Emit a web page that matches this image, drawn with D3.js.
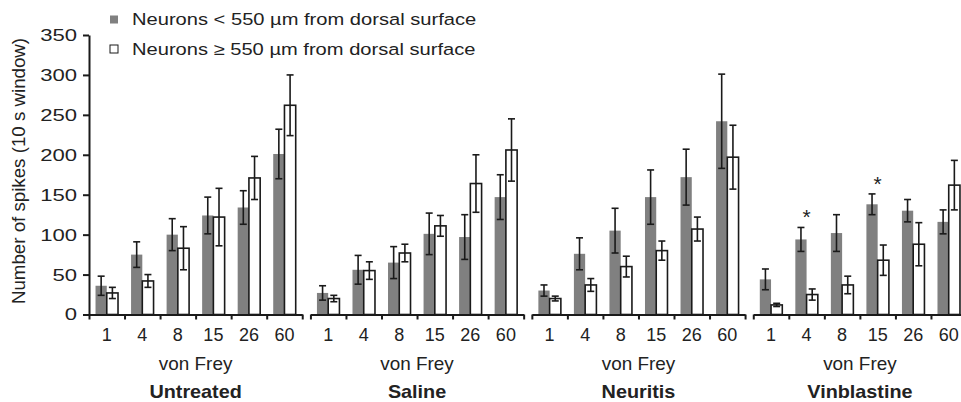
<!DOCTYPE html>
<html>
<head>
<meta charset="utf-8">
<script src="https://cdn.jsdelivr.net/npm/d3@7"></script>
<style>
  body { margin: 0; background: #fff; }
  svg { display: block; font-family: "Liberation Sans", Arial, sans-serif; }
</style>
</head>
<body>
<div id="container"></div>
<script>
const width = 961;
const height = 402;

const forces = ["1", "4", "8", "15", "26", "60"];
const groups = ["Untreated", "Saline", "Neuritis", "Vinblastine"];
const yTicks = [0, 50, 100, 150, 200, 250, 300, 350];

// neurons < 550 um (grey)
const shallowMean = [
  [36, 75, 100, 124, 134, 201],
  [27, 56, 65, 101, 97, 147],
  [30, 76, 105, 147, 172, 242],
  [44, 94, 102, 138, 130, 116]
];
const shallowErr = [
  [12, 16, 20, 23, 21, 31],
  [9, 18, 20, 26, 28, 28],
  [7, 20, 28, 34, 35, 59],
  [13, 15, 23, 13, 14, 15]
];
// neurons >= 550 um (white)
const deepMean = [
  [27, 42, 83, 122, 171, 262],
  [20, 55, 77, 111, 164, 206],
  [20, 37, 60, 80, 107, 197],
  [12, 25, 37, 68, 88, 162]
];
const deepErr = [
  [7, 8, 27, 36, 27, 38],
  [4, 11, 11, 13, 36, 39],
  [3, 8, 13, 12, 15, 40],
  [2, 7, 11, 19, 27, 31]
];
const stars = [[], [], [], ["4", "15"]];
const seriesNames = ["Neurons < 550 \u00b5m from dorsal surface", "Neurons \u2265 550 \u00b5m from dorsal surface"];

const grey = "#808080";
const ink = "#1a1a1a";
const textColor = "#222";

const svg = d3.select("#container")
              .append("svg")
              .attr("width", width)
              .attr("height", height);

// the source figure is a bit wider than tall, so text is stretched sideways
const addText = (sel, x, y, str, size, sx, opts = {}) =>
  sel.append("text")
     .attr("transform", "translate(" + x + "," + y + ")" + (opts.rotate ? " rotate(" + opts.rotate + ")" : "") + " scale(" + sx + ",1)")
     .attr("text-anchor", opts.anchor || "middle")
     .attr("font-size", size)
     .attr("font-weight", opts.weight || "normal")
     .attr("fill", textColor)
     .text(str);

const y = d3.scaleLinear().domain([0, 350]).range([314.5, 35]);

const panel = d3.scaleBand()
                .domain(groups)
                .range([89, 89 + 3 * 221.5 + 213])
                .paddingInner(0.037);

const xCat = d3.scaleBand().domain(forces).range([0, panel.bandwidth()]);
const xSeries = d3.scaleBand().domain(["s", "d"]).range([0, xCat.bandwidth()]).paddingOuter(0.58);
const xTick = d3.scaleLinear().domain([0, forces.length]).range([0, panel.bandwidth()]);

// y axis
const ySx = 1.3;
const yAxis = svg.append("g")
                 .attr("transform", "translate(" + panel(groups[0]) + ",0)")
                 .call(d3.axisLeft(y).tickValues(yTicks).tickSize(6).tickSizeOuter(0).tickPadding(6));
yAxis.select(".domain").attr("stroke", ink).attr("stroke-width", 2);
yAxis.selectAll(".tick line").attr("stroke", ink).attr("stroke-width", 2);
yAxis.selectAll(".tick text")
     .attr("font-size", 17)
     .attr("fill", textColor)
     .attr("font-family", "Liberation Sans, Arial, sans-serif")
     .attr("x", -12 / ySx)
     .attr("transform", "scale(" + ySx + ",1)");

addText(svg, 25, 171, "Number of spikes (10 s window)", 17.5, 1.07, { rotate: -90 });

groups.forEach((g, gi) => {
  const p = svg.append("g").attr("transform", "translate(" + panel(g) + ",0)");

  const cat = p.selectAll("g.cat")
               .data(forces)
               .enter()
               .append("g")
               .attr("transform", d => "translate(" + xCat(d) + ",0)");

  // grey bars
  cat.append("rect")
     .attr("x", xSeries("s"))
     .attr("width", xSeries.bandwidth())
     .attr("y", (d, i) => y(shallowMean[gi][i]))
     .attr("height", (d, i) => y(0) - y(shallowMean[gi][i]))
     .attr("fill", grey);
  // white bars
  cat.append("rect")
     .attr("x", xSeries("d"))
     .attr("width", xSeries.bandwidth())
     .attr("y", (d, i) => y(deepMean[gi][i]))
     .attr("height", (d, i) => y(0) - y(deepMean[gi][i]))
     .attr("fill", "#fff")
     .attr("stroke", ink)
     .attr("stroke-width", 1.6);

  // error bars
  const errs = [["s", shallowMean[gi], shallowErr[gi]], ["d", deepMean[gi], deepErr[gi]]];
  errs.forEach(([key, mean, err]) => {
    const cx = xSeries(key) + xSeries.bandwidth() / 2;
    const eb = cat.append("g").attr("stroke", ink).attr("stroke-width", 1.6);
    eb.append("line")
      .attr("x1", cx).attr("x2", cx)
      .attr("y1", (d, i) => y(mean[i] + err[i]))
      .attr("y2", (d, i) => y(mean[i] - err[i]));
    [1, -1].forEach(sign => {
      eb.append("line")
        .attr("x1", cx - 3.5).attr("x2", cx + 3.5)
        .attr("y1", (d, i) => y(mean[i] + sign * err[i]))
        .attr("y2", (d, i) => y(mean[i] + sign * err[i]));
    });
  });

  // significance stars
  cat.filter(d => stars[gi].includes(d))
     .append("text")
     .attr("x", xCat.bandwidth() / 2)
     .attr("y", d => {
       const i = forces.indexOf(d);
       return Math.min(y(shallowMean[gi][i] + shallowErr[gi][i]), y(deepMean[gi][i] + deepErr[gi][i])) - 3;
     })
     .attr("text-anchor", "middle")
     .attr("font-size", 21)
     .attr("fill", textColor)
     .text("*");

  // x axis line and ticks at category boundaries
  const xa = p.append("g")
              .attr("transform", "translate(0," + y(0) + ")")
              .call(d3.axisBottom(xTick).tickValues(d3.range(forces.length + 1)).tickFormat("").tickSize(5).tickSizeOuter(0));
  xa.select(".domain").attr("stroke", ink).attr("stroke-width", 2);
  xa.selectAll(".tick line").attr("stroke", ink).attr("stroke-width", 2);

  // category labels
  const xl = p.append("g")
              .attr("transform", "translate(0," + y(0) + ")")
              .call(d3.axisBottom(xCat).tickSize(0).tickPadding(14));
  xl.select(".domain").remove();
  xl.selectAll(".tick text")
    .attr("font-size", 18)
    .attr("fill", textColor)
    .attr("font-family", "Liberation Sans, Arial, sans-serif");

  addText(p, panel.bandwidth() / 2, 369.5, "von Frey", 17.5, 1.08);
  addText(p, panel.bandwidth() / 2, 397.5, g, 18, 1.1, { weight: "bold" });
});

// legend
const legend = svg.append("g");
legend.selectAll("rect")
      .data(seriesNames)
      .enter()
      .append("rect")
      .attr("x", 110)
      .attr("y", (d, i) => 15.5 + i * 29.5)
      .attr("width", 8)
      .attr("height", 8)
      .attr("fill", (d, i) => i === 0 ? grey : "#fff")
      .attr("stroke", (d, i) => i === 0 ? "none" : ink)
      .attr("stroke-width", 1);
seriesNames.forEach((name, i) => addText(legend, 132, 25 + i * 29.5, name, 16.5, 1.22, { anchor: "start" }));
</script>
</body>
</html>
